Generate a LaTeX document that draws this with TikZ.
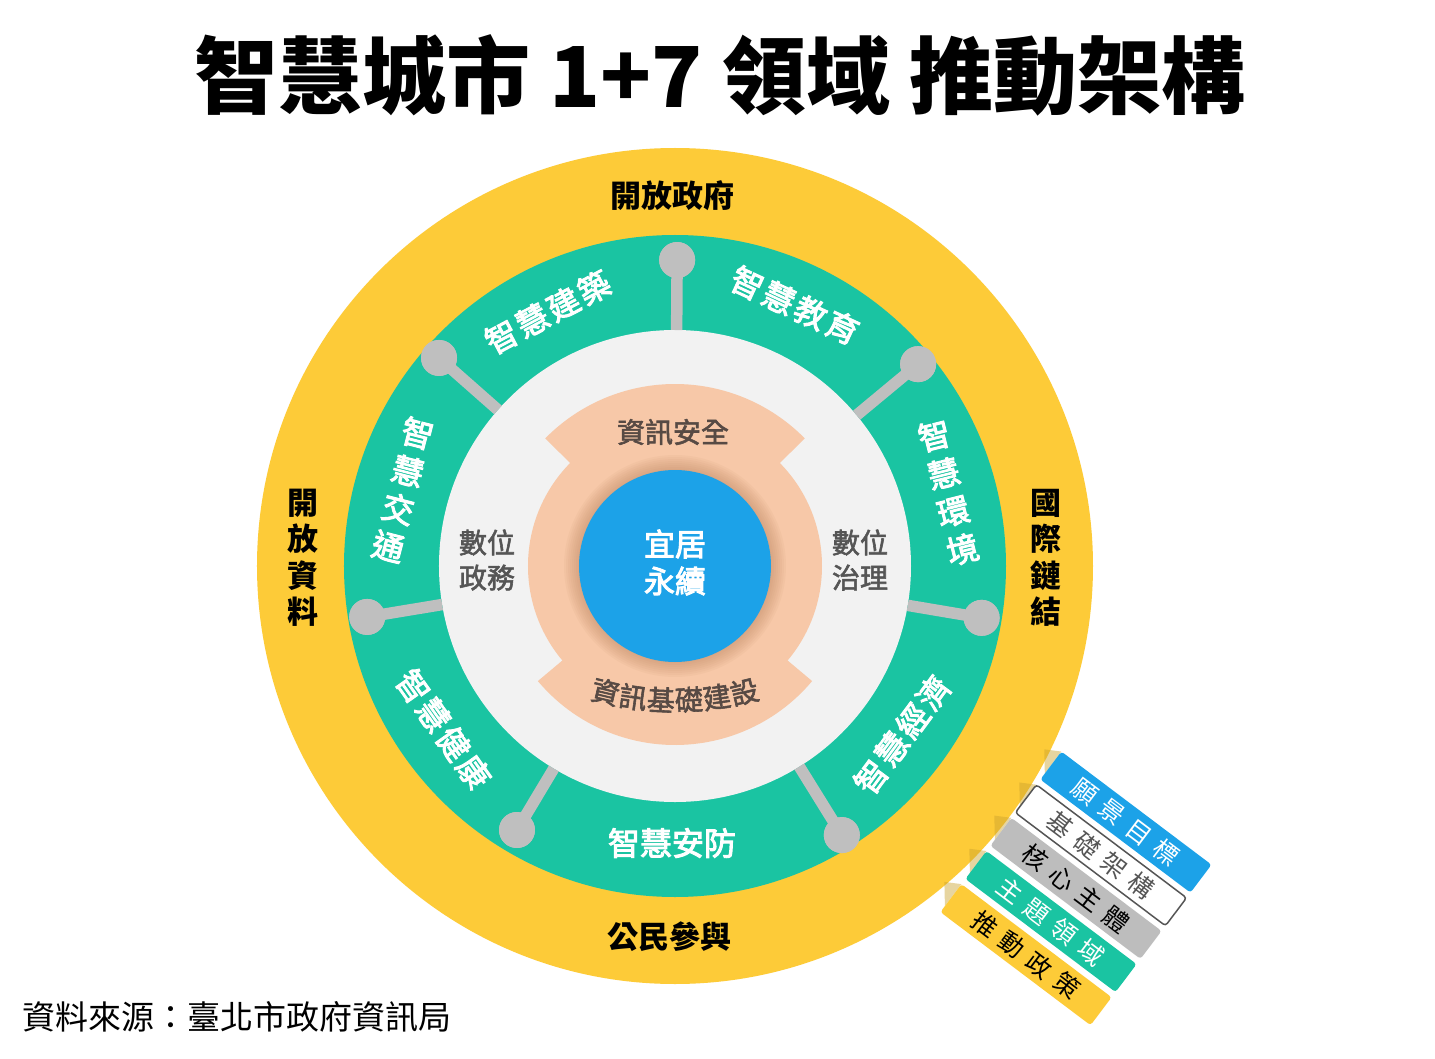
\documentclass[tikz,border=0pt]{standalone}
\usepackage{fontspec}
\newfontfamily\cjk{Noto Sans CJK TC}
\newfontfamily\cjkm{Noto Sans CJK TC}[FakeBold=2]
\newfontfamily\cjkh{Noto Sans CJK TC}[FakeBold=3]
\definecolor{ylw}{HTML}{FDCB38}
\definecolor{grn}{HTML}{1AC4A2}
\definecolor{lgr}{HTML}{F2F2F2}
\definecolor{pch}{HTML}{F7C8A8}
\definecolor{blu}{HTML}{1CA2E8}
\definecolor{knobc}{HTML}{BFBFBF}
\definecolor{dtx}{HTML}{555555}
\definecolor{ptx}{HTML}{574A44}
\definecolor{gry}{HTML}{BDBDBD}
\definecolor{shad}{HTML}{B07850}
\newcommand{\rgap}{\hspace{9pt}}
\newcommand{\ggap}{\hspace{3pt}}
\tikzset{
  disc/.style={circle, inner sep=0pt},
  ringlbl/.style={font=\cjk\bfseries\fontsize{31}{36.5}\selectfont, text=black, align=center, inner sep=0pt},
  grnlbl/.style={font=\cjkh\fontsize{32}{39}\selectfont, text=white, align=center, inner sep=0pt},
  innlbl/.style={font=\cjkm\fontsize{28}{35}\selectfont, text=dtx, align=center, inner sep=0pt},
  pchlbl/.style={font=\cjkm\fontsize{28}{28}\selectfont, text=ptx, inner sep=0pt},
  knobnode/.style={circle, fill=knobc, minimum size=36pt, inner sep=0pt},
  stick/.style={draw=knobc, line width=11.5pt},
  ribbon/.style={rectangle, rounded corners=3pt, minimum width=188pt, minimum height=35pt, inner sep=0pt, transform shape, font=\cjk\fontsize{25}{25}\selectfont},
  flap/.style={fill=ylw!80!black, opacity=0.45},
}
\begin{document}
\begin{tikzpicture}[x=1pt,y=1pt]
\useasboundingbox (-675,-492) rectangle (760,566);
\fill[white] (-675,-492) rectangle (760,566);

% rings
\node[disc, fill=ylw, minimum size=836pt] (ring) at (0,0) {};
\begin{scope}[shift={(363.2,-216.3)}, rotate=-37]
  \foreach \yc in {21,-20.5,-62,-103.5,-145}
    \fill[flap] (0,\yc+17.5) -- (-15,\yc+9) -- (0,\yc-10) -- cycle;
\end{scope}
\node[disc, fill=grn, minimum size=662pt] (gring) at (0,0) {};
\node[disc, fill=lgr, minimum size=472pt] (wdisc) at (0,0) {};

% knobs and sticks
\foreach \a/\r [count=\i] in {89.6/306, 138.6/314.6, 39.7/316, 189.4/312, -9.6/311, 239.1/307.7, -58.2/316.6}{
  \coordinate (e\i) at (\a:236pt);
  \node[knobnode] (k\i) at (\a:\r pt) {};
  \draw[stick] (e\i) -- (k\i.center);
  \node[knobnode] at (k\i) {};
}

% peach shape
\fill[pch] (0,0) circle (147pt);
\fill[pch] (0,0) -- (44.5:182pt) arc[start angle=44.5, end angle=135.5, radius=182pt] -- cycle;
\fill[pch] (0,0) -- (220:179pt) arc[start angle=220, end angle=320, radius=179pt] -- cycle;
\foreach \r in {97,99,...,111} \fill[shad, opacity=0.06] (0,0) circle (\r pt);
\node[disc, fill=blu, minimum size=192pt] (core) at (0,0) {};

% title and source
\node[font=\cjk\bfseries\fontsize{84}{84}\selectfont, inner sep=0pt] (title) at (45,491) {智慧城市 1+7 領域 推動架構};
\node[anchor=west, font=\cjk\fontsize{33}{33}\selectfont, inner sep=0pt] (src) at (-653,-451) {資料來源：臺北市政府資訊局};

% yellow ring labels
\node[ringlbl] (ytop) at (-2,370) {開放政府};
\node[ringlbl] (ybot) at (-5,-371) {公民參與};
\node[ringlbl] (yleft) at (-372,8) {開\\放\\資\\料};
\node[ringlbl] (yright) at (371,8) {國\\際\\鏈\\結};

% green ring labels
\node[grnlbl, rotate=28] (g1) at (116.6:284pt) {智\ggap 慧\ggap 建\ggap 築};
\node[grnlbl, rotate=-25] (g2) at (65.3:287pt) {智\ggap 慧\ggap 教\ggap 育};
\node[grnlbl, rotate=14] (g3) at (273.5,73.5) {智\\慧\\環\\境};
\node[grnlbl, rotate=-14.5] (g4) at (-272,76) {智\\慧\\交\\通};
\node[grnlbl, rotate=-54.7] (g5) at (215.2:283pt) {智\ggap 慧\ggap 健\ggap 康};
\node[grnlbl, rotate=53.5] (g6) at (-36.6:283pt) {智\ggap 慧\ggap 經\ggap 濟};
\node[grnlbl] (g7) at (-3,-277) {智慧安防};

% inner labels
\node[innlbl] (i1) at (-188,6) {數位\\政務};
\node[innlbl] (i2) at (185,6) {數位\\治理};
\node[pchlbl] (p1) at (-2,134) {資訊安全};
\foreach \c/\a [count=\i] in {資/256.63, 訊/261.98, 基/267.33, 礎/272.67, 建/278.02, 設/283.37}
  \node[pchlbl, rotate=\a-270] (pb\i) at ({300*cos(\a)},{166+300*sin(\a)}) {\c};
\node[font=\cjkh\fontsize{31}{37}\selectfont, text=white, align=center, inner sep=0pt] (corelbl) at (0,3.5) {宜居\\永續};

% legend
\begin{scope}[shift={(363.2,-216.3)}, rotate=-37]
  \node[ribbon, fill=blu, text=white] (lg1) at (94,21) {願\rgap 景\rgap 目\rgap 標};
  \node[ribbon, fill=white, draw=dtx, line width=1.5pt, text=dtx] (lg2) at (94,-20.5) {基\rgap 礎\rgap 架\rgap 構};
  \node[ribbon, fill=gry, text=black] (lg3) at (94,-62) {核\rgap 心\rgap 主\rgap 體};
  \node[ribbon, fill=grn, text=white] (lg4) at (94,-103.5) {主\rgap 題\rgap 領\rgap 域};
  \node[ribbon, fill=ylw, text=black] (lg5) at (94,-145) {推\rgap 動\rgap 政\rgap 策};
\end{scope}
\end{tikzpicture}
\end{document}
